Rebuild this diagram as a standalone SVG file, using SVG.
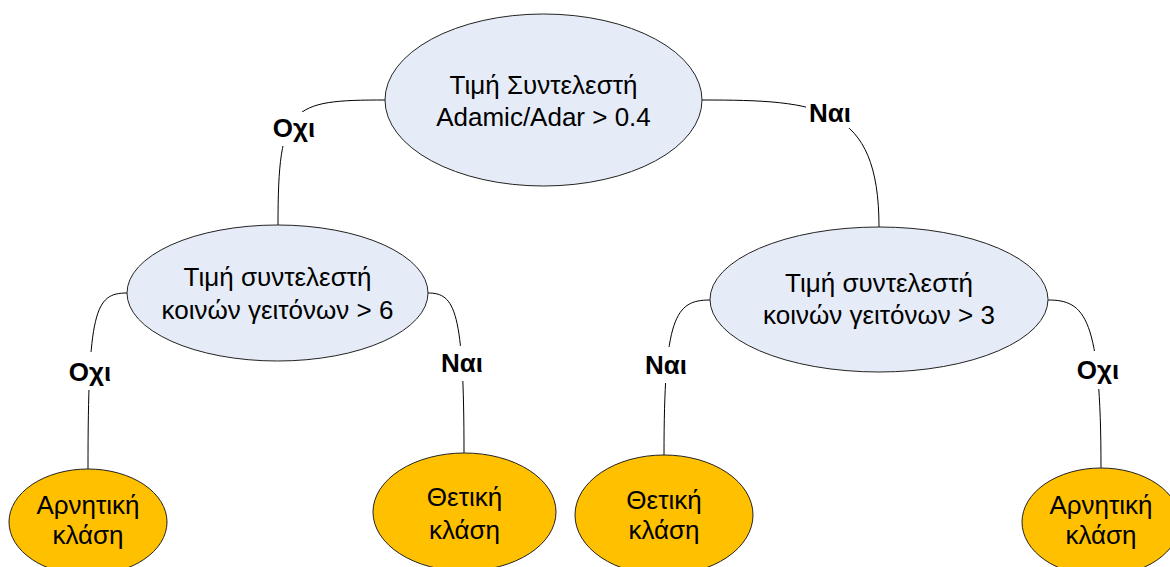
<svg xmlns="http://www.w3.org/2000/svg" width="1170" height="567" viewBox="0 0 1170 567">
<style>
.bg{fill:#ffffff}
.dec{fill:#E6ECF7;stroke:#222;stroke-width:1}
.leaf{fill:#FFC000;stroke:#222;stroke-width:1}
.t{font-family:"Liberation Sans",Arial,sans-serif;font-size:26px;fill:#000;text-anchor:middle}
.edge{fill:none;stroke:#000;stroke-width:1}
.lb{fill:#fff;stroke:none}
.lt{font-family:"Liberation Sans",Arial,sans-serif;font-size:26px;font-weight:bold;fill:#000;text-anchor:middle}
</style>
<rect class="bg" x="0" y="0" width="1170" height="567"/>
<g id="connectors">
<path class="edge" d="M385,100 C290,100 278,105 278,225"/>
<path class="edge" d="M702,100 C820,100 879,105 879,227"/>
<path class="edge" d="M127,293 C95,293 88,310 88,469"/>
<path class="edge" d="M428,293 C455,293 464,310 464,453"/>
<path class="edge" d="M710,300 C675,300 664,317 664,455"/>
<path class="edge" d="M1048,300 C1085,300 1101,317 1101,468"/>
<rect class="lb" x="270" y="112" width="48" height="34"/>
<text class="lt" x="294" y="137">Οχι</text>
<rect class="lb" x="806" y="97" width="48" height="31"/>
<text class="lt" x="830" y="122">Ναι</text>
<rect class="lb" x="66" y="352" width="48" height="38"/>
<text class="lt" x="90" y="381">Οχι</text>
<rect class="lb" x="438" y="346" width="48" height="35"/>
<text class="lt" x="462" y="372">Ναι</text>
<rect class="lb" x="642" y="347" width="48" height="36"/>
<text class="lt" x="666" y="374">Ναι</text>
<rect class="lb" x="1074" y="351" width="48" height="38"/>
<text class="lt" x="1098" y="379">Οχι</text>
</g>
<g id="root">
<ellipse class="dec" cx="543.5" cy="100" rx="158.5" ry="86"/>
<text class="t" x="543.5" y="94">Τιμή Συντελεστή</text>
<text class="t" x="543.5" y="126">Adamic/Adar &gt; 0.4</text>
</g>
<g id="mid-left">
<ellipse class="dec" cx="277.5" cy="293" rx="150.5" ry="68"/>
<text class="t" x="277.5" y="286">Τιμή συντελεστή</text>
<text class="t" x="277.5" y="319">κοινών γειτόνων &gt; 6</text>
</g>
<g id="mid-right">
<ellipse class="dec" cx="879" cy="299.5" rx="169" ry="72.5"/>
<text class="t" x="879" y="292">Τιμή συντελεστή</text>
<text class="t" x="879" y="324">κοινών γειτόνων &gt; 3</text>
</g>
<g id="leaf1">
<ellipse class="leaf" cx="88" cy="522" rx="79" ry="53"/>
<text class="t" x="88" y="514">Αρνητική</text>
<text class="t" x="88" y="544">κλάση</text>
</g>
<g id="leaf2">
<ellipse class="leaf" cx="464.5" cy="512" rx="91.5" ry="59"/>
<text class="t" x="464.5" y="506">Θετική</text>
<text class="t" x="464.5" y="539">κλάση</text>
</g>
<g id="leaf3">
<ellipse class="leaf" cx="664" cy="515" rx="89" ry="60"/>
<text class="t" x="664" y="509">Θετική</text>
<text class="t" x="664" y="539">κλάση</text>
</g>
<g id="leaf4">
<ellipse class="leaf" cx="1101" cy="522" rx="79" ry="54"/>
<text class="t" x="1101" y="514">Αρνητική</text>
<text class="t" x="1101" y="544">κλάση</text>
</g>
</svg>
